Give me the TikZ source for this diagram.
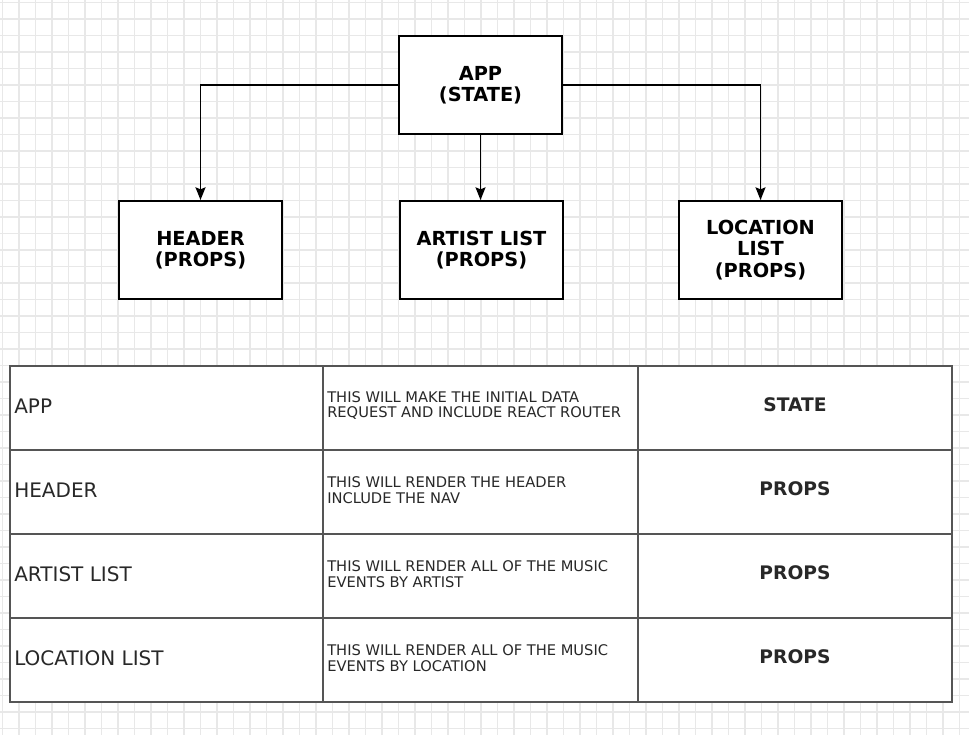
\documentclass[tikz,border=0pt]{standalone}
\usepackage{fontspec}
\setmainfont{DejaVu Sans}
\usetikzlibrary{arrows.meta}

\definecolor{gridline}{RGB}{232,232,232}
\definecolor{tableline}{RGB}{85,85,85}
\definecolor{tabletext}{RGB}{40,40,40}

\tikzset{
  compbox/.style={draw=black, line width=1.5pt, fill=white, align=center,
    minimum width=122pt, minimum height=73.5pt, inner sep=0pt,
    font=\bfseries\fontsize{14.5}{16}\selectfont},
  flow/.style={line width=1.1pt, -{Stealth[length=9.5pt,width=7.5pt,inset=1.5pt]}},
  namecell/.style={anchor=west, inner sep=0pt, text=tabletext,
    font=\fontsize{15}{17}\selectfont},
  notecell/.style={anchor=west, inner sep=0pt, align=left, text=tabletext,
    font=\fontsize{11}{11.5}\selectfont},
  kindcell/.style={inner sep=0pt, text=tabletext,
    font=\bfseries\fontsize{14}{16}\selectfont}
}

\begin{document}
\begin{tikzpicture}[x=0.75pt,y=0.75pt,yscale=-1,xscale=1]
	\useasboundingbox (0,0) rectangle (969,735);
	\fill[white] (0,0) rectangle (969,735);
	% paper grid
	\foreach \k in {0,...,58}
		\draw[gridline, line width=1.1pt] ({2.7+16.5*\k},0) -- ({2.7+16.5*\k},735);
	\foreach \k in {0,...,44}
		\draw[gridline, line width=1.1pt] (0,{2.7+16.5*\k}) -- (969,{2.7+16.5*\k});

	% component tree
	\node[compbox] (app) at (480.5,85) {APP\\(STATE)};
	\node[compbox] (header) at (200.5,250) {HEADER\\(PROPS)};
	\node[compbox] (artist) at (481.5,250) {ARTIST LIST\\(PROPS)};
	\node[compbox] (loclist) at (760.5,250) {LOCATION\\LIST\\(PROPS)};
	\draw[flow] (app.west) -| (header.north);
	\draw[flow] (app.east) -| (loclist.north);
	\draw[flow] (app.south) -- (app.south |- artist.north);

	% table
	\fill[white] (10,366) rectangle (952,702);
	\draw[tableline, line width=1.1pt] (10,366) rectangle (952,702);
	\foreach \ry in {450,534,618}
		\draw[tableline, line width=1.1pt] (10,\ry) -- (952,\ry);
	\foreach \cx in {323,638}
		\draw[tableline, line width=1.1pt] (\cx,366) -- (\cx,702);

	\node[namecell] (nameapp) at (14,406) {APP};
	\node[namecell] (namehead) at (14,490) {HEADER};
	\node[namecell] (nameart) at (14,574) {ARTIST LIST};
	\node[namecell] (nameloc) at (14,658) {LOCATION LIST};

	\node[notecell] (noteapp) at (327,405.5) {THIS WILL MAKE THE INITIAL DATA\\REQUEST AND INCLUDE REACT ROUTER};
	\node[notecell] (notehead) at (327,490) {THIS WILL RENDER THE HEADER\\INCLUDE THE NAV};
	\node[notecell] (noteart) at (327,574) {THIS WILL RENDER ALL OF THE MUSIC\\EVENTS BY ARTIST};
	\node[notecell] (noteloc) at (327,658) {THIS WILL RENDER ALL OF THE MUSIC\\EVENTS BY LOCATION};

	\node[kindcell] (kindapp) at (795,405) {STATE};
	\node[kindcell] (kindhead) at (795,489) {PROPS};
	\node[kindcell] (kindart) at (795,573) {PROPS};
	\node[kindcell] (kindloc) at (795,657) {PROPS};
\end{tikzpicture}
\end{document}
